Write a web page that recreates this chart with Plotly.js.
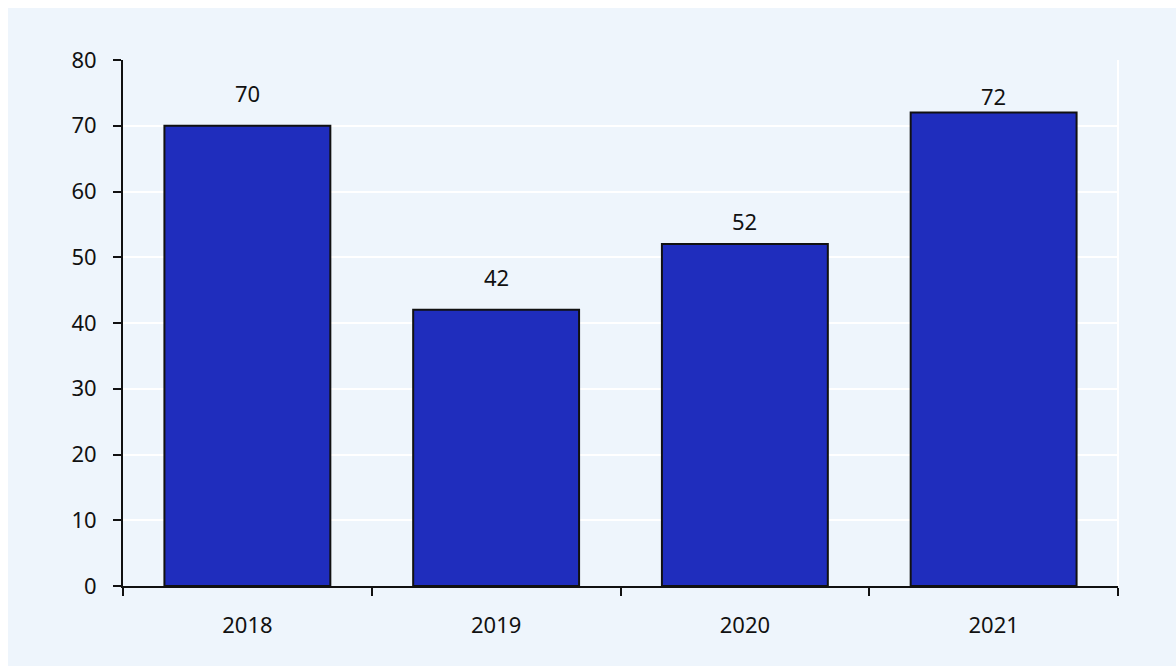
<!DOCTYPE html>
<html>
<head>
<meta charset="utf-8">
<script src="https://cdn.plot.ly/plotly-3.0.1.min.js"></script>
<style>
  html, body { margin: 0; padding: 0; overflow: hidden; background: #ffffff; }
  #wrap { position: absolute; left: 8px; top: 8px; }
</style>
</head>
<body>
<div id="wrap"><div id="chart" style="width:1176px;height:666px;"></div></div>
<script>
// Data
const years = ['2018', '2019', '2020', '2021'];
const values = [70, 42, 52, 72];
const yTicks = [0, 10, 20, 30, 40, 50, 60, 70, 80];

// Label placement (style, not data)
const labelOffsets = [5, 5, 3.5, 2.5];

const bg = '#eef5fc';
const font = { family: 'Noto Sans, Open Sans, sans-serif', size: 22, color: '#111111' };

const trace = {
  type: 'bar',
  x: years,
  y: values,
  marker: { color: '#1f2dbd', line: { color: '#111111', width: 2 } },
  hoverinfo: 'skip'
};

const annotations = years.map((yr, i) => ({
  x: i,
  y: values[i] + labelOffsets[i],
  xref: 'x',
  yref: 'y',
  text: String(values[i]),
  showarrow: false,
  font: font,
  xanchor: 'center',
  yanchor: 'middle'
}));

const layout = {
  width: 1176,
  height: 666,
  margin: { l: 115, r: 66, t: 52, b: 88 },
  paper_bgcolor: bg,
  plot_bgcolor: bg,
  font: font,
  showlegend: false,
  bargap: 0.333,
  xaxis: {
    type: 'category',
    range: [-0.5, years.length - 0.5],
    tickson: 'boundaries',
    ticks: 'outside',
    ticklen: 8,
    tickwidth: 2,
    tickcolor: '#111111',
    showline: true,
    linecolor: '#111111',
    linewidth: 2,
    showgrid: false,
    zeroline: false,
    tickfont: font,
    tickangle: 0,
    ticklabelstandoff: 19
  },
  yaxis: {
    range: [0, 80],
    tickvals: yTicks,
    ticks: 'outside',
    ticklen: 8,
    tickwidth: 2,
    tickcolor: '#111111',
    showline: true,
    linecolor: '#111111',
    linewidth: 2,
    showgrid: true,
    gridcolor: '#ffffff',
    gridwidth: 2,
    zeroline: false,
    tickfont: font,
    ticklabelstandoff: 12
  },
  shapes: [{
    type: 'line', xref: 'paper', yref: 'paper',
    x0: 1, x1: 1, y0: 0, y1: 1,
    line: { color: '#ffffff', width: 2 },
    layer: 'below'
  }],
  annotations: annotations
};

Plotly.newPlot('chart', [trace], layout, { displayModeBar: false, staticPlot: true });
</script>
</body>
</html>
